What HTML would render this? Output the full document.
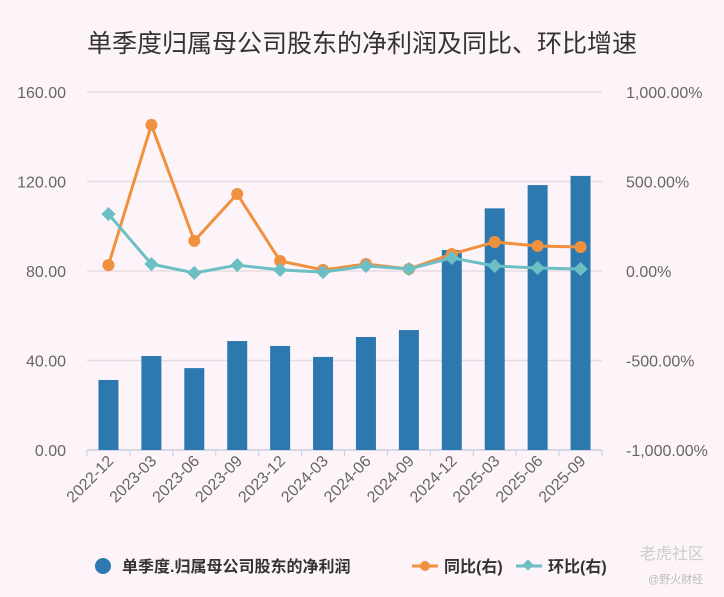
<!DOCTYPE html>
<html><head><meta charset="utf-8"><style>
body{margin:0;background:#fdf4f9;font-family:"Liberation Sans","Noto Sans CJK SC",sans-serif;}
svg{display:block}
</style></head><body>
<svg id="chart" width="724" height="597" xmlns="http://www.w3.org/2000/svg">
<rect width="724" height="597" fill="#fdf4f9"/>
<text x="362" y="52" text-anchor="middle" font-size="25" fill="#333" font-family="Liberation Sans, Noto Sans CJK SC, sans-serif">单季度归属母公司股东的净利润及同比、环比增速</text>
<g id="grid"></g><g id="bars"></g><g id="lines"></g><g id="axes"></g>
<g font-size="16" font-weight="bold" fill="#333" font-family="Liberation Sans, Noto Sans CJK SC, sans-serif">
<circle cx="103" cy="566" r="8" fill="#2e78b0"/>
<text x="122" y="572">单季度.归属母公司股东的净利润</text>
<line x1="412" y1="566" x2="438" y2="566" stroke="#f0913f" stroke-width="3"/>
<circle cx="425" cy="566" r="5" fill="#f0913f"/>
<text x="444" y="572">同比(右)</text>
<line x1="516" y1="566" x2="542" y2="566" stroke="#6cbfc4" stroke-width="3"/>
<rect x="524" y="561" width="8" height="8" fill="#6cbfc4" transform="rotate(45 528 565)"/>
<text x="548" y="572">环比(右)</text>
</g>
<text x="640" y="559" font-size="16" fill="#ccc">老虎社区</text>
<text x="648" y="583" font-size="11" fill="#bbb">@野火财经</text>
</svg>
<script>
const categories=["2022-12","2023-03","2023-06","2023-09","2023-12","2024-03","2024-06","2024-09","2024-12","2025-03","2025-06","2025-09"];
const profit=[31.3,42,36.6,48.7,46.5,41.6,50.5,53.6,89.4,108,118.4,122.5];
const yoy=[33,816,168,430,56,6,39,11,95,162,140,134];
const qoq=[318,39,-11,33,6,-6,28,11,73,28,17,11];
const leftTicks=[0,40,80,120,160];
const rightTicks=[-1000,-500,0,500,1000];
const leftLabels=["0.00","40.00","80.00","120.00","160.00"];
const rightLabels=["-1,000.00%","-500.00%","0.00%","500.00%","1,000.00%"];
const NS="http://www.w3.org/2000/svg";
const X0=87,X1=602,Y0=450,Y1=92;
const bw=(X1-X0)/categories.length;
const xc=i=>X0+bw*(i+0.5);
const yL=v=>Y0-(v/160)*(Y0-Y1);
const yR=v=>Y0-((v+1000)/2000)*(Y0-Y1);
function mk(tag,attrs,parent){const e=document.createElementNS(NS,tag);for(const k in attrs)e.setAttribute(k,attrs[k]);document.getElementById(parent).appendChild(e);return e;}
leftTicks.forEach((t,i)=>{
 const y=yL(t);
 const g=mk("line",{x1:X0,x2:X1,y1:y,y2:y,stroke:i==0?"#c9cde0":"#e6dbe2","stroke-width":1.5},"grid");
 
 
 const l=mk("text",{x:66,y:y+6,"text-anchor":"end","font-size":16,fill:"#666"},"axes");l.textContent=leftLabels[i];
 
 
});
rightTicks.forEach((t,i)=>{
 const r=mk("text",{x:626,y:yR(t)+6,"font-size":16,fill:"#666"},"axes");r.textContent=rightLabels[i];
 
 
});
categories.forEach((c,i)=>{
 const h=yL(0)-yL(profit[i]);
 const b=mk("rect",{x:xc(i)-10,y:yL(profit[i]),width:20,height:h,fill:"#2e78b0"},"bars");
 
 
 const tk=mk("line",{x1:X0+bw*i,x2:X0+bw*i,y1:Y0,y2:Y0+6,stroke:"#c9cde0"},"axes");
 
 
 const x=xc(i)+6,y=Y0+12;
 const t=mk("text",{x:x,y:y,"text-anchor":"end","font-size":16,fill:"#666",transform:`rotate(-45 ${x} ${y})`},"axes");t.textContent=c;
 
 
});
const tk=mk("line",{x1:X1,x2:X1,y1:Y0,y2:Y0+6,stroke:"#c9cde0"},"axes");
function series(vals,color,name,diamond){
 const p=mk("polyline",{points:vals.map((v,i)=>xc(i)+","+yR(v)).join(" "),fill:"none",stroke:color,"stroke-width":3},"lines");
 
 
 vals.forEach((v,i)=>{
  let m;
  if(diamond){m=mk("rect",{x:xc(i)-5,y:yR(v)-5,width:10,height:10,fill:color,transform:`rotate(45 ${xc(i)} ${yR(v)})`},"lines");}
  else{m=mk("circle",{cx:xc(i),cy:yR(v),r:6,fill:color},"lines");}
  
  
 });
}
series(yoy,"#f0913f","yoy",false);
series(qoq,"#6cbfc4","qoq",true);
</script>
</body></html>
